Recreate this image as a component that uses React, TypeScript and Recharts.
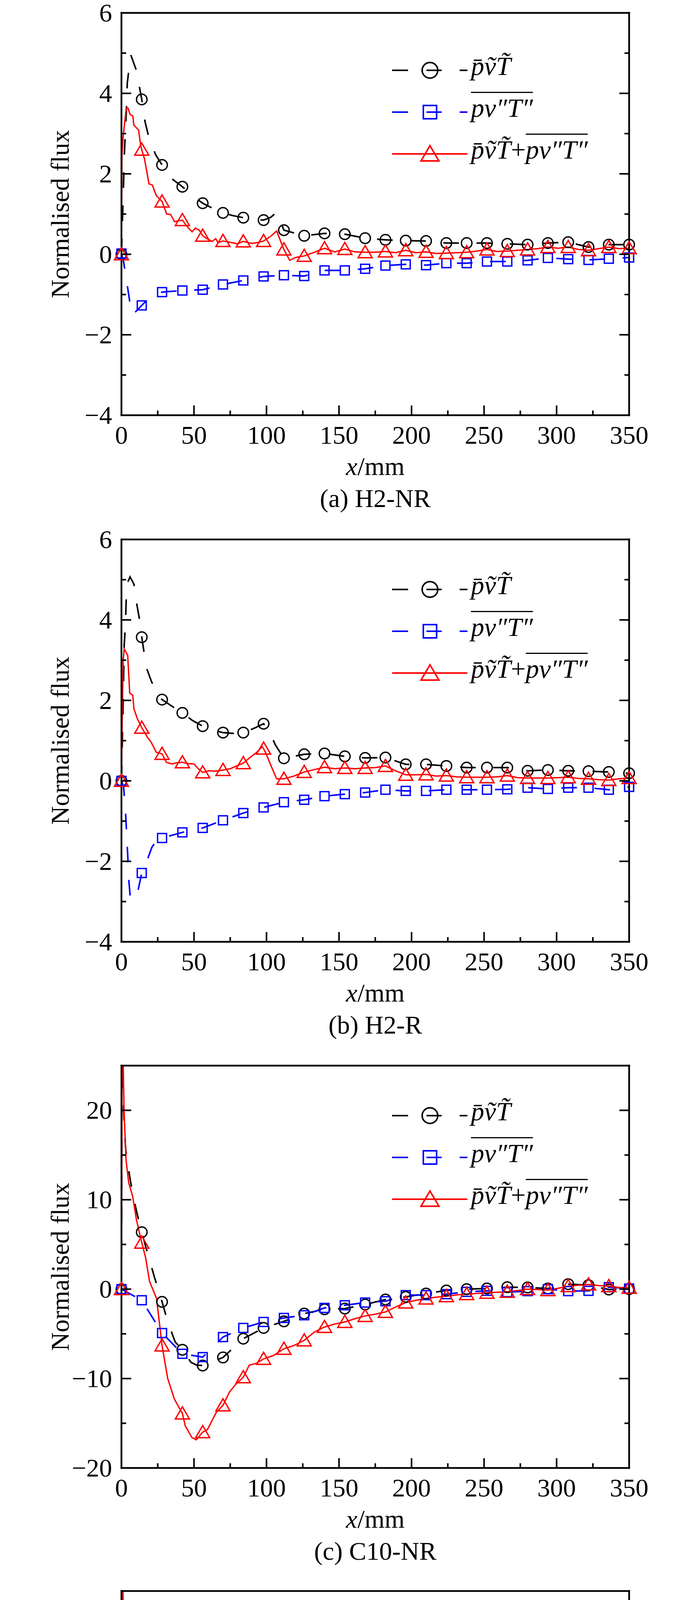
import React from "react";
import { ComposedChart, Line, XAxis, YAxis } from "recharts";

const FONT = "'Liberation Serif', 'Times New Roman', serif";
const BLUE = "#0000ff";
const RED = "#ff0000";

// x positions of the markers (mm)
const markerX = [0, 14, 28, 42, 56, 70, 84, 98, 112, 126, 140, 154, 168, 182, 196, 210, 224, 238, 252, 266, 280, 294, 308, 322, 336, 350];
const xTicks = [0, 25, 50, 75, 100, 125, 150, 175, 200, 225, 250, 275, 300, 325, 350];
const yTicksH2 = [-4, -3, -2, -1, 0, 1, 2, 3, 4, 5, 6];
const yTicksC10 = [-20, -15, -10, -5, 0, 5, 10, 15, 20];

// (a) H2-NR
const aConv = [0, 3.85, 2.22, 1.68, 1.27, 1.03, 0.91, 0.85, 0.6, 0.46, 0.52, 0.5, 0.4, 0.36, 0.34, 0.33, 0.28, 0.28, 0.28, 0.26, 0.24, 0.28, 0.3, 0.18, 0.24, 0.24];
const aTurb = [0.02, -1.27, -0.94, -0.9, -0.88, -0.75, -0.65, -0.55, -0.52, -0.54, -0.4, -0.4, -0.36, -0.28, -0.25, -0.27, -0.22, -0.22, -0.18, -0.18, -0.15, -0.09, -0.12, -0.14, -0.11, -0.08];
const aSum = [0, 2.6, 1.31, 0.85, 0.46, 0.33, 0.32, 0.33, 0.12, -0.04, 0.15, 0.13, 0.05, 0.07, 0.1, 0.06, 0.03, 0.05, 0.12, 0.08, 0.12, 0.18, 0.18, 0.1, 0.18, 0.15];
const aConvExtra = [[1, 1.2], [2, 2.5], [3.3, 3.5], [4, 4.25], [5, 4.55], [6.5, 4.95], [8, 4.8], [10.5, 4.55], [12.7, 4.1], [16.3, 3.29], [19, 2.89], [23.5, 2.48], [34.7, 1.88], [49, 1.45], [63, 1.14], [77, 0.96], [91, 0.87], [103, 0.92], [107, 1.05]];
const aTurbExtra = [[1.4, -0.17], [5, -1.0], [7, -1.5], [10, -1.42], [20, -1.05]];
const aSumExtra = [[0.3, 2.43], [1.1, 2.89], [3.3, 3.63], [4.6, 3.63], [6, 3.47], [7.8, 3.44], [8.6, 3.21], [11.8, 3.09], [13.2, 2.72], [15.9, 2.37], [19, 1.75], [21.3, 1.72], [24, 1.46], [31.2, 1.0], [33.9, 0.99], [36.6, 0.81], [45.5, 0.68], [48.7, 0.56], [50.9, 0.65], [53.6, 0.6], [59.8, 0.37], [62.5, 0.32], [65, 0.39], [66.5, 0.29], [75, 0.3], [80, 0.26], [90, 0.27], [95, 0.3], [103, 0.45], [107, 0.58], [110, 0.3], [116, -0.15], [120, -0.08], [133, 0.05], [147, 0.06], [161, 0.06], [175, 0.05], [189, 0.04], [203, 0.04], [217, 0.02], [231, 0.04], [245, 0.08], [259, 0.07], [273, 0.1], [287, 0.14], [301, 0.15], [315, 0.12], [329, 0.14], [343, 0.14]];

// (b) H2-R
const bConv = [0, 3.57, 2.02, 1.69, 1.36, 1.2, 1.2, 1.42, 0.56, 0.66, 0.68, 0.61, 0.57, 0.58, 0.41, 0.41, 0.37, 0.33, 0.33, 0.33, 0.25, 0.27, 0.25, 0.24, 0.22, 0.19];
const bTurb = [0, -2.29, -1.42, -1.28, -1.17, -0.98, -0.8, -0.66, -0.53, -0.47, -0.38, -0.33, -0.29, -0.22, -0.25, -0.25, -0.22, -0.22, -0.22, -0.21, -0.17, -0.2, -0.17, -0.17, -0.22, -0.15];
const bSum = [0, 1.32, 0.67, 0.46, 0.21, 0.27, 0.44, 0.8, 0.05, 0.22, 0.34, 0.32, 0.32, 0.37, 0.15, 0.16, 0.13, 0.09, 0.09, 0.13, 0.07, 0.07, 0.09, 0.05, 0.02, 0.07];
const bConvExtra = [[1, 1.6], [1.9, 3.38], [2.8, 3.9], [3.1, 4.3], [3.4, 4.64], [4.5, 4.95], [5.9, 5.07], [8.6, 4.89], [10.5, 4.41], [12.4, 4.02], [17.2, 2.81], [20.7, 2.47], [24, 2.2], [35, 1.85], [49, 1.5], [63, 1.26], [77, 1.18], [91, 1.3], [103, 1.15], [106, 0.9]];
const bTurbExtra = [[1.5, -0.15], [3, -0.9], [4.5, -1.98], [5.1, -2.48], [6.2, -2.94], [7.5, -2.94], [10.5, -2.88], [16.7, -2.07], [21, -1.65], [24, -1.49]];
const bSumExtra = [[0.5, 1.5], [1.2, 3.0], [1.9, 3.28], [4.3, 3.12], [5.7, 2.18], [7.8, 2.13], [8.6, 1.79], [11, 1.54], [17.8, 1.09], [20.5, 0.96], [24, 0.71], [31, 0.46], [35, 0.42], [38, 0.45], [46, 0.43], [50, 0.42], [53, 0.3], [60, 0.25], [65, 0.24], [75, 0.3], [80, 0.38], [89, 0.59], [93, 0.7], [97, 0.85], [100, 0.65], [104, 0.3], [107, 0.05], [119, 0.12], [133, 0.28], [147, 0.3], [161, 0.3], [175, 0.33], [189, 0.25], [203, 0.15], [217, 0.12], [231, 0.1], [245, 0.09], [259, 0.1], [273, 0.08], [287, 0.07], [301, 0.08], [315, 0.06], [329, 0.03], [343, 0.05]];

// (c) C10-NR
const cConv = [0, 6.37, -1.42, -6.78, -8.54, -7.64, -5.54, -4.34, -3.6, -2.73, -2.25, -2.17, -1.72, -1.16, -0.86, -0.49, -0.15, 0, 0.07, 0.22, 0.19, 0.07, 0.56, 0.45, -0.04, 0];
const cTurb = [0, -1.24, -4.91, -7.23, -7.6, -5.36, -4.34, -3.67, -3.22, -2.92, -2.1, -1.8, -1.5, -1.35, -0.67, -0.67, -0.56, -0.3, -0.19, -0.34, -0.22, 0, -0.22, -0.19, 0.22, 0.07];
const cSum = [0, 5.2, -6.3, -13.9, -16.0, -13.0, -9.85, -7.8, -6.67, -5.73, -4.23, -3.67, -3.0, -2.55, -1.5, -1.05, -0.79, -0.56, -0.41, -0.3, 0, -0.11, 0.34, 0.52, 0.34, 0.15];
const cConvExtra = [[0.4, 27], [1.2, 22], [2, 18], [3, 15.5], [4.5, 13.8], [6.3, 12.0], [8.3, 10.3], [10.4, 8.7], [17, 4.6], [19.8, 3.0], [23, 1.2], [32, -3.7], [37, -5.9], [48, -8.2], [52, -8.5]];
const cTurbExtra: number[][] = [];
const cSumExtra = [[0.3, 20], [0.6, 28], [1.0, 27], [1.8, 19.9], [3.2, 14.4], [5, 11.9], [7.7, 10.4], [10.4, 7.7], [16.7, 3.5], [19.3, 0.9], [24.2, -1.05], [31.9, -10.0], [36.5, -12.3], [44, -15.3], [48.6, -16.6], [51.6, -16.85], [59.3, -15.7], [65.3, -13.8], [74.5, -11.5], [79, -10.6], [88.1, -8.5], [93, -8.3], [105, -7.4], [119, -6.3], [133, -4.8], [147, -3.9], [161, -3.3], [175, -2.8], [189, -2.0], [203, -1.25], [217, -0.9], [231, -0.65], [245, -0.48], [259, -0.35], [273, -0.15], [287, -0.05], [301, 0.1], [315, 0.45], [329, 0.4], [343, 0.2]];

// (d) C10-R
const dConv = [0, 7.55, 1.2, -2.24, -3.14, -4.6, -5.91, -6.36, -4.52, -4.3, -3.36, -2.73, -1.35, -1.31, -0.93, -0.67, -0.45, -0.11, -0.11, -0.15, 0.19, 0.34, 0.15, 0.04, 0.22, 0.07];
const dTurb = [0, -1.31, -4.3, -5.16, -5.31, -6.28, -5.42, -5.42, -4.04, -2.99, -2.92, -2.47, -2.28, -2.09, -1.79, -1.5, -1.05, -0.97, -0.97, -1.16, -1.35, -1.23, -1.05, -0.97, -1.05, -0.1];
const dSum = [0, 6.24, -3.0, -7.4, -8.3, -10.8, -11.1, -11.8, -8.45, -7.2, -6.2, -4.97, -3.66, -3.36, -2.73, -2.09, -1.42, -1.27, -1.16, -1.42, -0.97, -0.6, -0.86, -0.86, -0.49, 0.15];
const dConvExtra = [[0.4, 27], [1.2, 21], [2, 17], [3, 15], [4.2, 14.2], [5.9, 12.4], [8.3, 10.7], [10, 9.1], [15.5, 7.1], [20, 5.5], [23.4, 3.6], [26.1, 2.3], [35, -0.8]];
const dTurbExtra: number[][] = [];
const dSumExtra = [[0.3, 20], [0.5, 28], [0.9, 26], [1.5, 20.6], [2.4, 17.7], [2.9, 15.0], [4.2, 13.5], [5.1, 12.2], [6.9, 11.2], [8.3, 10.0], [10, 8.4], [11.8, 7.0], [15.9, 5.4], [18.2, 4.1], [20.8, 2.6], [22.8, 2.3], [25, 0], [30.4, -5.5], [34.9, -6.1], [38, -6.8], [47.1, -8.3], [51, -8.2], [62.3, -9.5], [66, -10.0], [74.5, -10.6], [79, -11.0], [89.7, -11.7], [94, -11.9], [101.9, -10.0], [106, -9.0], [119, -7.8], [133, -6.6], [147, -5.4], [161, -4.2], [175, -3.45], [189, -3.0], [203, -2.4], [217, -1.7], [231, -1.35], [245, -1.2], [259, -1.3], [273, -1.15], [287, -0.75], [301, -0.75], [315, -0.9], [329, -0.7], [343, -0.2]];

const toMarkers = (ys: number[]) => markerX.map((x, i) => ({ x, y: ys[i] }));
const toLine = (ys: number[], extra: number[][]) =>
  [...markerX.map((x, i) => [x, ys[i]]), ...extra]
    .sort((p, q) => p[0] - q[0])
    .map(([x, y]) => ({ x, y }));

// plot area top of each panel on the page
const PAD = 73;
const panels = [
  { caption: "(a) H2-NR", domain: [-4, 6], yTicks: yTicksH2, major: 2, conv: aConv, turb: aTurb, sum: aSum, convX: aConvExtra, turbX: aTurbExtra, sumX: aSumExtra, plotTop: 33, legendY: 147 },
  { caption: "(b) H2-R", domain: [-4, 6], yTicks: yTicksH2, major: 2, conv: bConv, turb: bTurb, sum: bSum, convX: bConvExtra, turbX: bTurbExtra, sumX: bSumExtra, plotTop: 1381, legendY: 128 },
  { caption: "(c) C10-NR", domain: [-20, 25], yTicks: yTicksC10, major: 10, conv: cConv, turb: cTurb, sum: cSum, convX: cConvExtra, turbX: cTurbExtra, sumX: cSumExtra, plotTop: 2728, legendY: 128 },
  { caption: "(d) C10-R", domain: [-20, 25], yTicks: yTicksC10, major: 10, conv: dConv, turb: dTurb, sum: dSum, convX: dConvExtra, turbX: dTurbExtra, sumX: dSumExtra, plotTop: 4073, legendY: 137 },
];

const fmt = (v: number) => (v < 0 ? "\u2212" + Math.abs(v) : String(v));

function BottomTick(props: any) {
  const { x, y, payload } = props;
  const major = payload.value % 50 === 0;
  return (
    <g>
      <line x1={x} y1={y} x2={x} y2={y - (major ? 25 : 12)} stroke="#000" strokeWidth={4} />
      {major && (
        <text x={x} y={y + 73} textAnchor="middle" fontFamily={FONT} fontSize={66} fill="#000">
          {payload.value}
        </text>
      )}
    </g>
  );
}

function TopTick(props: any) {
  const { x, y, payload } = props;
  const major = payload.value % 50 === 0;
  return <line x1={x} y1={y} x2={x} y2={y + (major ? 25 : 12)} stroke="#000" strokeWidth={4} />;
}

const leftTick = (step: number) => (props: any) => {
  const { x, y, payload } = props;
  const major = payload.value % step === 0;
  return (
    <g>
      <line x1={x} y1={y} x2={x + (major ? 25 : 12)} y2={y} stroke="#000" strokeWidth={4} />
      {major && (
        <text x={x - 24} y={y + 22} textAnchor="end" fontFamily={FONT} fontSize={66} fill="#000">
          {fmt(payload.value)}
        </text>
      )}
    </g>
  );
};

const rightTick = (step: number) => (props: any) => {
  const { x, y, payload } = props;
  const major = payload.value % step === 0;
  return <line x1={x} y1={y} x2={x - (major ? 25 : 12)} y2={y} stroke="#000" strokeWidth={4} />;
};

const circleDot = (p: any) => (
  <circle key={`c${p.index}`} cx={p.cx} cy={p.cy} r={13.5} fill="none" stroke="#000" strokeWidth={3.5} />
);
const squareDot = (p: any) => (
  <rect key={`s${p.index}`} x={p.cx - 11.5} y={p.cy - 11.5} width={23} height={23} fill="none" stroke={BLUE} strokeWidth={3.5} />
);
const triDot = (p: any) => (
  <polygon
    key={`t${p.index}`}
    points={`${p.cx},${p.cy - 17} ${p.cx + 18},${p.cy + 14} ${p.cx - 18},${p.cy + 14}`}
    fill="none"
    stroke={RED}
    strokeWidth={3.5}
  />
);

const frame = { stroke: "#000", strokeWidth: 4.5, strokeLinecap: "square" as const };

const pbvT = <span style={{ fontStyle: "italic" }}>{"p\u0304v\u0303T\u0303"}</span>;
const pvTbar = (
  <span style={{ fontStyle: "italic", textDecoration: "overline", textDecorationThickness: "3px" }}>
    {"pv\u2033T\u2033"}
  </span>
);

function LegendRow({ y, kind }: { y: number; kind: "conv" | "turb" | "sum" }) {
  const color = kind === "conv" ? "#000" : kind === "turb" ? BLUE : RED;
  const dash = kind === "sum" ? undefined : "41 47 39 46";
  return (
    <div style={{ position: "absolute", left: 1004, top: y - 60, width: 620, height: 120 }}>
      <svg width={202} height={80} style={{ position: "absolute", left: 0, top: 20 }}>
        <line x1={0} y1={40} x2={193} y2={40} stroke={color} strokeWidth={4} strokeDasharray={dash} />
        {kind === "conv" && <circle cx={97} cy={40} r={20} fill="none" stroke={color} strokeWidth={4} />}
        {kind === "turb" && <rect x={80} y={23} width={34} height={34} fill="none" stroke={color} strokeWidth={4} />}
        {kind === "sum" && <polygon points="97,19 120,58 74,58" fill="none" stroke={color} strokeWidth={4} />}
      </svg>
      <div style={{ position: "absolute", left: 202, top: 9, height: 80, fontFamily: FONT, fontSize: 68, lineHeight: "80px", whiteSpace: "nowrap", color: "#000" }}>
        {kind === "conv" && pbvT}
        {kind === "turb" && pvTbar}
        {kind === "sum" && (
          <>
            {pbvT}+{pvTbar}
          </>
        )}
      </div>
    </div>
  );
}

function Panel({ p }: { p: (typeof panels)[number] }) {
  const height = PAD + 1030 + 255;
  return (
    <div style={{ position: "absolute", left: 0, top: p.plotTop - PAD, width: 1772, height }}>
      <ComposedChart width={1772} height={height} margin={{ top: PAD - 1, right: 160, bottom: 155, left: 161 }}>
        <XAxis
          xAxisId="b"
          dataKey="x"
          type="number"
          domain={[0, 350]}
          ticks={xTicks}
          interval={0}
          height={100}
          tickSize={0}
          tickMargin={0}
          tickLine={false}
          axisLine={frame}
          tick={<BottomTick />}
          label={(lp: any) => {
            const vb = lp.viewBox;
            const cx = vb.x + vb.width / 2;
            return (
              <g>
                <text x={cx} y={vb.y + 153} textAnchor="middle" fontFamily={FONT} fontSize={66} fill="#000">
                  <tspan fontStyle="italic">x</tspan>/mm
                </text>
                <text x={cx} y={vb.y + 235} textAnchor="middle" fontFamily={FONT} fontSize={66} fill="#000">
                  {p.caption}
                </text>
              </g>
            );
          }}
        />
        <XAxis
          xAxisId="t"
          orientation="top"
          dataKey="x"
          type="number"
          domain={[0, 350]}
          ticks={xTicks}
          interval={0}
          height={1}
          tickSize={0}
          tickMargin={0}
          tickLine={false}
          axisLine={frame}
          tick={<TopTick />}
        />
        <YAxis
          yAxisId="l"
          dataKey="y"
          type="number"
          domain={p.domain}
          allowDataOverflow
          ticks={p.yTicks}
          interval={0}
          width={150}
          tickSize={0}
          tickMargin={0}
          tickLine={false}
          axisLine={frame}
          tick={leftTick(p.major)}
          label={(lp: any) => {
            const vb = lp.viewBox;
            const cy = vb.y + vb.height / 2;
            return (
              <text
                x={vb.x + 15}
                y={cy}
                transform={`rotate(-90, ${vb.x + 15}, ${cy})`}
                textAnchor="middle"
                fontFamily={FONT}
                fontSize={66}
                fill="#000"
              >
                Normalised flux
              </text>
            );
          }}
        />
        <YAxis
          yAxisId="r"
          orientation="right"
          dataKey="y"
          type="number"
          domain={p.domain}
          ticks={p.yTicks}
          interval={0}
          width={1}
          tickSize={0}
          tickMargin={0}
          tickLine={false}
          axisLine={frame}
          tick={rightTick(p.major)}
        />

        <Line xAxisId="b" yAxisId="l" data={toLine(p.conv, p.convX)} dataKey="y" type="linear" stroke="#000" strokeWidth={4} strokeDasharray="40 45" dot={false} activeDot={false} isAnimationActive={false} />
        <Line xAxisId="b" yAxisId="r" data={toMarkers(p.conv)} dataKey="y" stroke="none" dot={circleDot} activeDot={false} isAnimationActive={false} />
        <Line xAxisId="b" yAxisId="l" data={toLine(p.turb, p.turbX)} dataKey="y" type="linear" stroke={BLUE} strokeWidth={4} strokeDasharray="40 45" dot={false} activeDot={false} isAnimationActive={false} />
        <Line xAxisId="b" yAxisId="r" data={toMarkers(p.turb)} dataKey="y" stroke="none" dot={squareDot} activeDot={false} isAnimationActive={false} />
        <Line xAxisId="b" yAxisId="l" data={toLine(p.sum, p.sumX)} dataKey="y" type="linear" stroke={RED} strokeWidth={3.5} dot={false} activeDot={false} isAnimationActive={false} />
        <Line xAxisId="b" yAxisId="r" data={toMarkers(p.sum)} dataKey="y" stroke="none" dot={triDot} activeDot={false} isAnimationActive={false} />
      </ComposedChart>

      <LegendRow y={PAD + p.legendY} kind="conv" />
      <LegendRow y={PAD + p.legendY + 107} kind="turb" />
      <LegendRow y={PAD + p.legendY + 214} kind="sum" />
    </div>
  );
}

export default function App() {
  return (
    <div style={{ position: "absolute", left: 0, top: 0, width: 1772, height: 5351, overflow: "hidden", background: "#fff" }}>
      {panels.map((p) => (
        <Panel key={p.caption} p={p} />
      ))}
    </div>
  );
}
